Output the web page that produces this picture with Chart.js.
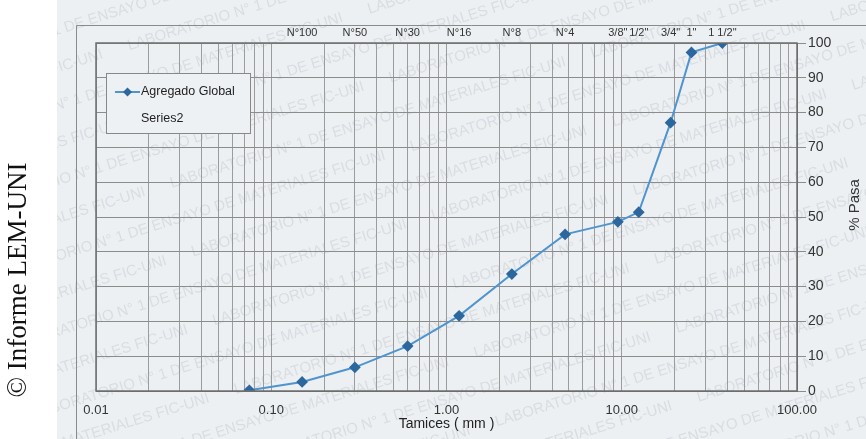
<!DOCTYPE html>
<html>
<head>
<meta charset="utf-8">
<script src="https://cdn.jsdelivr.net/npm/chart.js@4.4.1/dist/chart.umd.min.js"></script>
<style>
  html, body { margin: 0; padding: 0; background: #fff; }
  #wrap { position: relative; width: 866px; height: 439px; }
</style>
</head>
<body>
<div id="wrap"><canvas id="granulo"></canvas></div>
<script>
// sieve openings (mm) and % passing
const sieveSizes = [0.075, 0.15, 0.3, 0.6, 1.18, 2.36, 4.75, 9.5, 12.5, 19, 25, 37.5];
const percentPassing = [0.2, 2.6, 6.8, 12.9, 21.6, 33.6, 45.0, 48.6, 51.4, 77.1, 97.3, 100];
const topSieveValues = [0.15, 0.3, 0.6, 1.18, 2.36, 4.75, 9.5, 12.5, 19, 25, 37.5];
const topSieveLabels = ['N°100', 'N°50', 'N°30', 'N°16', 'N°8', 'N°4', '3/8"', '1/2"', '3/4"', '1"', '1 1/2"'];
const xDecades = [0.01, 0.1, 1, 10, 100];
const xTickLabels = ['0.01', '0.10', '1.00', '10.00', '100.00'];
const seriesNames = ['Agregado Global', 'Series2'];

const SANS = '"Liberation Sans", Arial, sans-serif';
const LINE_BLUE = '#4f94cf';
const MARK_BLUE = '#2c679e';

// log grid: 1..9 in every decade
const minorTicks = [];
xDecades.forEach((d, i) => {
  if (i === xDecades.length - 1) { minorTicks.push(d); return; }
  for (let k = 1; k <= 9; k++) minorTicks.push(Number((k * d).toPrecision(6)));
});

const pagePlugin = {
  id: 'page',
  beforeDraw(chart) {
    const ctx = chart.ctx;
    ctx.save();
    ctx.fillStyle = '#fff';
    ctx.fillRect(0, 0, 866, 439);
    ctx.fillStyle = '#edf0f3';
    ctx.fillRect(57, 0, 809, 439);

    // faint watermark of the scanned sheet
    ctx.beginPath();
    ctx.rect(57, 0, 809, 439);
    ctx.clip();
    ctx.translate(433, 220);
    ctx.rotate(-0.3);
    ctx.font = '15px ' + SANS;
    ctx.fillStyle = 'rgba(120,130,140,0.17)';
    const wm = 'LABORATORIO N° 1 DE ENSAYO DE MATERIALES FIC-UNI';
    for (let row = -10; row <= 10; row++) {
      const off = (Math.abs(row) % 2) * 200;
      for (let col = -3; col <= 2; col++) ctx.fillText(wm, col * 440 + off, row * 36);
    }
    ctx.restore();

    // outer frame
    ctx.save();
    ctx.strokeStyle = '#8a8a8a';
    ctx.lineWidth = 1;
    ctx.beginPath();
    ctx.moveTo(76.5, 439);
    ctx.lineTo(76.5, 25.5);
    ctx.lineTo(866, 25.5);
    ctx.stroke();
    ctx.restore();
  },
  afterDraw(chart) {
    const ctx = chart.ctx;
    const a = chart.chartArea;
    ctx.save();
    ctx.strokeStyle = '#6e6e6e';
    ctx.lineWidth = 1.5;
    ctx.strokeRect(a.left, a.top, a.right - a.left, a.bottom - a.top);

    // legend box
    ctx.fillStyle = '#eef1f4';
    ctx.fillRect(106, 73, 144, 60);
    ctx.strokeStyle = '#888';
    ctx.lineWidth = 1;
    ctx.strokeRect(106.5, 73.5, 144, 60);
    ctx.strokeStyle = LINE_BLUE;
    ctx.lineWidth = 2;
    ctx.beginPath();
    ctx.moveTo(115, 92);
    ctx.lineTo(140, 92);
    ctx.stroke();
    ctx.fillStyle = MARK_BLUE;
    ctx.beginPath();
    ctx.moveTo(127.5, 87.5);
    ctx.lineTo(132, 92);
    ctx.lineTo(127.5, 96.5);
    ctx.lineTo(123, 92);
    ctx.closePath();
    ctx.fill();
    ctx.font = '12.5px ' + SANS;
    ctx.fillStyle = '#222';
    ctx.textBaseline = 'middle';
    ctx.fillText(chart.data.datasets[0].label, 141, 92);
    ctx.fillText(chart.data.datasets[1].label, 141, 119);

    // y title, reads bottom to top
    ctx.translate(855, 205);
    ctx.rotate(-Math.PI / 2);
    ctx.textAlign = 'center';
    ctx.font = '15px ' + SANS;
    ctx.fillStyle = '#333';
    ctx.fillText('% Pasa', 0, 0);
    ctx.restore();

    // credit line in the white margin
    ctx.save();
    ctx.translate(26, 280);
    ctx.rotate(-Math.PI / 2);
    ctx.textAlign = 'center';
    ctx.textBaseline = 'alphabetic';
    ctx.font = '27px "Liberation Serif", "Times New Roman", serif';
    ctx.fillStyle = '#111';
    ctx.fillText('© Informe LEM-UNI', 0, 0);
    ctx.restore();
  }
};

const ctx = document.getElementById('granulo').getContext('2d');
new Chart(ctx, {
  type: 'line',
  data: {
    datasets: [{
      label: seriesNames[0],
      data: sieveSizes.map((s, i) => ({ x: s, y: percentPassing[i] })),
      borderColor: LINE_BLUE,
      borderWidth: 2,
      pointStyle: 'rectRot',
      pointRadius: 4.5,
      pointBackgroundColor: MARK_BLUE,
      pointBorderColor: MARK_BLUE,
      tension: 0,
      xAxisID: 'x',
      yAxisID: 'y'
    }, {
      label: seriesNames[1],
      data: [],
      xAxisID: 'x',
      yAxisID: 'y'
    }]
  },
  options: {
    responsive: true,
    maintainAspectRatio: false,
    animation: false,
    layout: { padding: { left: 96, right: 0, top: 0, bottom: 0 } },
    plugins: {
      legend: { display: false },
      tooltip: { enabled: false }
    },
    scales: {
      x: {
        type: 'logarithmic',
        position: 'bottom',
        min: 0.01,
        max: 100,
        afterBuildTicks: scale => { scale.ticks = minorTicks.map(v => ({ value: v })); },
        afterFit: scale => { scale.height = 48; },
        grid: { color: '#9c9c9c', lineWidth: 1, drawTicks: false },
        border: { color: '#6e6e6e' },
        ticks: {
          autoSkip: false,
          maxRotation: 0,
          padding: 12,
          color: '#333',
          font: { family: SANS, size: 13 },
          callback: value => {
            const i = xDecades.findIndex(d => Math.abs(d - value) / d < 1e-6);
            return i >= 0 ? xTickLabels[i] : '';
          }
        },
        title: {
          display: true,
          text: 'Tamices ( mm )',
          color: '#222',
          font: { family: SANS, size: 14 },
          padding: { top: 0, bottom: 6 }
        }
      },
      xTop: {
        type: 'logarithmic',
        position: 'top',
        min: 0.01,
        max: 100,
        afterBuildTicks: scale => { scale.ticks = topSieveValues.map(v => ({ value: v })); },
        afterFit: scale => { scale.height = 43; },
        grid: { display: false, drawTicks: false },
        border: { display: false },
        ticks: {
          autoSkip: false,
          maxRotation: 0,
          padding: 3,
          color: '#333',
          font: { family: SANS, size: 11 },
          callback: (value, index) => topSieveLabels[index]
        }
      },
      y: {
        position: 'right',
        min: 0,
        max: 100,
        afterFit: scale => { scale.width = 69; },
        grid: { color: '#8c8c8c', lineWidth: 1, tickLength: 9 },
        border: { color: '#6e6e6e' },
        ticks: {
          stepSize: 10,
          padding: 2,
          color: '#333',
          font: { family: SANS, size: 14 }
        }
      }
    }
  },
  plugins: [pagePlugin]
});
</script>
</body>
</html>
